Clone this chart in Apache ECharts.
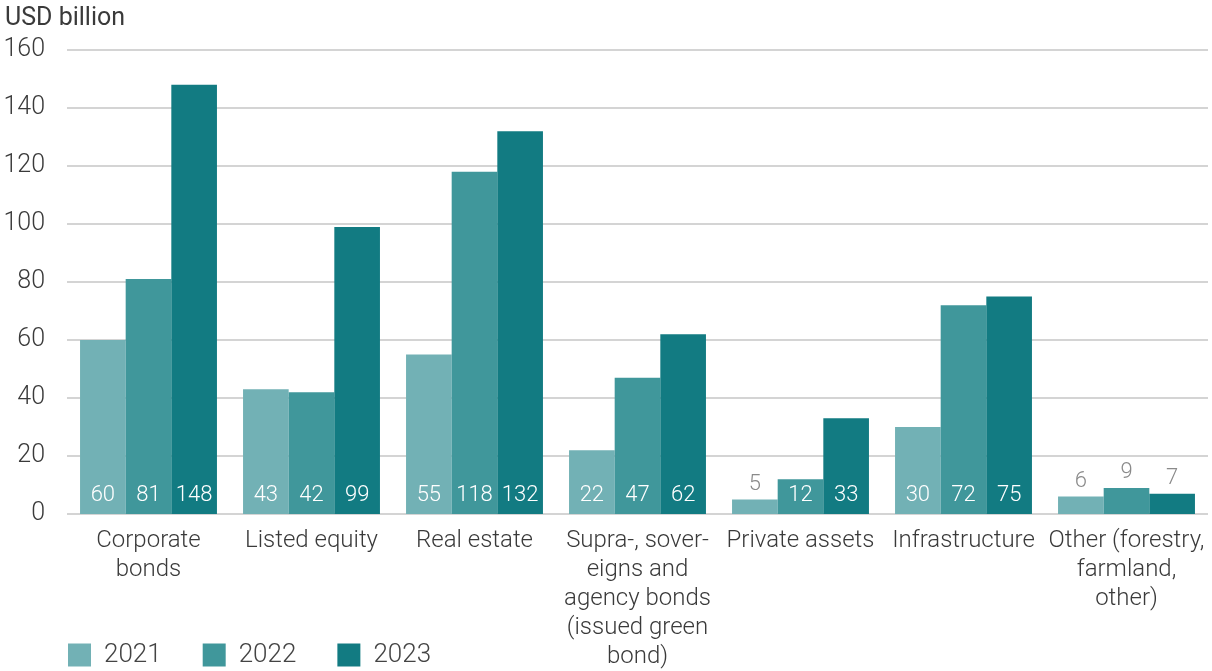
<!DOCTYPE html>
<html>
<head>
<meta charset="utf-8">
<script src="https://cdn.jsdelivr.net/npm/echarts@6/dist/echarts.min.js"></script>
<style>
  html, body { margin: 0; padding: 0; background: #fff; }
  #chart { width: 1212px; height: 671px; }
</style>
</head>
<body>
<div id="chart"></div>
<script>
// Assets by category, USD billion

var categories = [
    'Corporate\nbonds',
    'Listed equity',
    'Real estate',
    'Supra-, sover-\neigns and\nagency bonds\n(issued green\nbond)',
    'Private assets',
    'Infrastructure',
    'Other (forestry,\nfarmland,\nother)'
];
var years = ['2021', '2022', '2023'];
var values2021 = [60, 43, 55, 22, 5, 30, 6];
var values2022 = [81, 42, 118, 47, 12, 72, 9];
var values2023 = [148, 99, 132, 62, 33, 75, 7];
var yTicks = [0, 20, 40, 60, 80, 100, 120, 140, 160];

var colors = ['#72b1b5', '#40979b', '#127b82'];
var FONT = 'Roboto';

// short bars get their label above the bar in grey
function withLabels(values) {
    return values.map(v => {
        if (v < 10) {
            return {
                value: v,
                label: { position: 'top', color: '#8a8a8a', distance: 4 }
            };
        }
        return v;
    });
}

function makeSeries(name, values, color) {
    return {
        name: name,
        type: 'bar',
        data: withLabels(values),
        barGap: '0%',
        barCategoryGap: '16%',
        itemStyle: { color: color },
        label: {
            show: true,
            position: 'insideBottom',
            distance: 8,
            color: '#ffffff',
            fontFamily: FONT,
            fontWeight: 300,
            fontSize: 22
        }
    };
}

document.addEventListener('DOMContentLoaded', () => {
    echarts.init(document.querySelector('#chart')).setOption({
        animation: false,
        textStyle: { fontFamily: FONT },
        grid: { left: 67, right: 4, top: 50, bottom: 156 },
        title: {
            text: 'USD billion',
            left: 0,
            top: 1,
            textStyle: { fontFamily: FONT, fontWeight: 400, fontSize: 25, color: '#3a3a3a' }
        },
        legend: {
            data: years,
            left: 63,
            bottom: -2,
            itemWidth: 23,
            itemHeight: 23,
            itemGap: 41,
            icon: 'rect',
            textStyle: { fontFamily: FONT, fontWeight: 300, fontSize: 26, color: '#444', padding: [0, 0, 0, 8] }
        },
        xAxis: {
            type: 'category',
            data: categories,
            axisLine: { show: false },
            axisTick: { show: false },
            axisLabel: {
                interval: 0,
                margin: 12,
                fontFamily: FONT,
                fontWeight: 300,
                fontSize: 24,
                lineHeight: 29,
                color: '#3a3a3a'
            }
        },
        yAxis: {
            type: 'value',
            min: yTicks[0],
            max: yTicks[yTicks.length - 1],
            interval: 20,
            axisLine: { show: false },
            axisTick: { show: false },
            axisLabel: {
                margin: 22,
                fontFamily: FONT,
                fontWeight: 300,
                fontSize: 25,
                color: '#3a3a3a'
            },
            splitLine: { lineStyle: { color: '#d4d4d4', width: 2 } }
        },
        series: [
            makeSeries(years[0], values2021, colors[0]),
            makeSeries(years[1], values2022, colors[1]),
            makeSeries(years[2], values2023, colors[2])
        ]
    });
});
</script>
</body>
</html>
